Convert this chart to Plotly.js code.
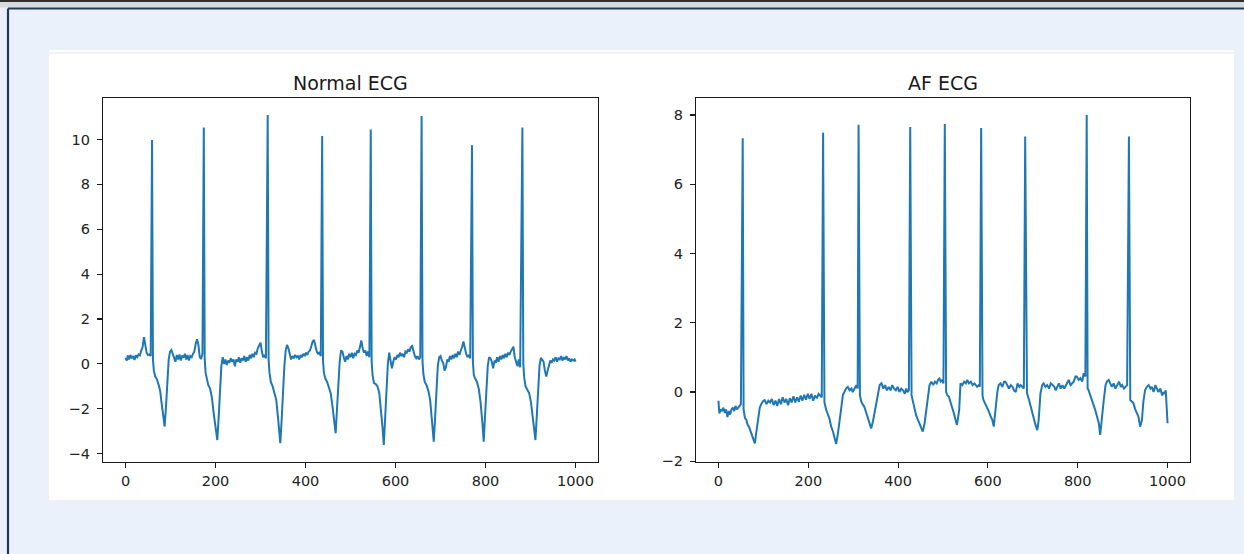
<!DOCTYPE html>
<html>
<head>
<meta charset="utf-8">
<script src="https://cdn.plot.ly/plotly-3.0.1.min.js"></script>
<style>
  html, body { margin: 0; padding: 0; background: #eaf1fb; }
  #chart { width: 1244px; height: 554px; }
</style>
</head>
<body>
<div id="chart"></div>
<script>
// ---- Data ----
const panelTitles = ["Normal ECG", "AF ECG"];
const xTicks = [0, 200, 400, 600, 800, 1000];
const normalYTicks = [-4, -2, 0, 2, 4, 6, 8, 10];
const afYTicks = [-2, 0, 2, 4, 6, 8];

const normalSample = [
  0,3,5,8,11,14,17,20,23,26,29,32,35,38,41,44,47,50,53,56,
  59,61,63,66,70,74,77,80,84,87,90,93,96,99,102,105,108,111,114,117,
  120,123,126,129,132,135,138,141,144,147,150,153,156,159,162,165,168,171,
  174,176,178,181,184,188,192,196,200,204,207,210,213,
  216,219,222,225,228,231,234,237,240,243,246,249,252,255,258,261,264,267,270,273,276,279,282,285,288,291,294,297,300,303,306,309,312,
  316,318,320,323,327,331,335,339,344,347,350,353,356,359,362,
  365,368,371,374,377,380,383,386,389,392,395,398,401,404,407,410,413,416,419,422,425,428,431,434,
  437,439,441,444,448,452,456,460,464,467,470,473,476,479,482,485,488,491,494,497,500,503,506,509,512,515,518,521,524,527,530,533,536,539,542,
  545,547,549,552,556,560,564,568,571,574,577,580,583,586,589,592,595,598,601,604,607,610,613,616,619,622,625,628,631,634,637,640,643,646,649,652,655,
  658,660,662,665,669,673,677,681,685,688,691,694,697,700,703,706,709,712,715,718,721,724,727,730,733,736,739,742,745,748,751,754,757,760,763,766,
  770,772,774,777,781,785,789,793,796,799,802,805,808,811,814,817,820,823,826,829,832,835,838,841,844,847,850,853,856,859,862,865,868,871,874,877,
  882,884,886,889,893,897,901,905,908,911,914,917,920,923,926,929,932,935,938,941,944,947,950,953,956,959,962,965,968,971,974,977,980,983,986,989,992,995,998,1000
];
const normalValue = [
  0.27,0.15,0.38,0.2,0.4,0.25,0.35,0.18,0.38,0.3,0.42,0.38,0.6,0.75,1.19,0.85,0.5,0.4,0.42,0.35,
  9.98,0.2,-0.3,-0.55,-0.7,-0.95,-1.2,-1.7,-2.4,-2.79,-1.9,-0.7,0.2,0.55,0.62,0.45,0.3,0.1,0.4,0.2,
  0.42,0.15,0.38,0.28,0.45,0.2,0.4,0.15,0.35,0.3,0.45,0.55,0.9,1.1,0.85,0.3,0.22,0.45,
  10.54,0.2,-0.4,-0.75,-0.95,-1.1,-1.5,-2.2,-2.9,-3.39,-2.4,-1.1,-0.1,
  0.3,0.0,0.2,-0.05,0.15,0.05,0.25,0.1,0.2,-0.1,0.2,0.1,0.3,0.05,0.25,0.15,0.35,0.1,0.3,0.15,0.4,0.25,0.45,0.3,0.5,0.45,0.7,0.85,0.95,0.55,0.3,0.4,0.25,
  11.09,0.2,-0.4,-0.8,-1.0,-1.25,-1.6,-2.4,-3.53,-2.5,-1.2,-0.1,0.6,0.85,0.7,
  0.45,0.2,0.35,0.25,0.4,0.3,0.35,0.2,0.4,0.3,0.45,0.35,0.5,0.4,0.55,0.6,0.8,1.0,1.07,0.8,0.55,0.45,0.5,0.35,
  10.16,0.1,-0.4,-0.65,-0.8,-1.05,-1.3,-1.9,-2.6,-3.09,-2.0,-0.8,0.1,0.6,0.55,0.3,0.1,0.35,0.2,0.45,0.3,0.5,0.25,0.45,0.4,0.6,0.5,0.75,1.05,0.7,0.5,0.6,0.35,0.55,0.3,
  10.45,0.1,-0.5,-0.85,-0.9,-1.0,-1.3,-2.0,-2.8,-3.61,-2.5,-1.1,0.0,0.5,0.2,-0.2,0.1,0.3,0.2,0.4,0.3,0.5,0.35,0.45,0.3,0.55,0.5,0.65,0.55,0.75,0.8,0.55,0.35,0.25,0.35,0.2,0.3,
  11.05,0.1,-0.45,-0.8,-0.95,-1.2,-1.6,-2.5,-3.46,-2.4,-1.1,-0.1,0.3,0.35,0.15,0.05,-0.3,-0.15,0.2,0.1,0.35,0.2,0.4,0.25,0.45,0.3,0.55,0.4,0.6,0.75,1.0,0.7,0.45,0.3,0.4,0.25,
  9.75,0.1,-0.5,-0.65,-0.8,-1.1,-1.7,-2.6,-3.46,-2.3,-1.0,-0.1,0.3,0.25,0.1,-0.2,0.15,0.05,0.3,0.1,0.35,0.2,0.4,0.25,0.45,0.3,0.5,0.4,0.55,0.65,0.77,0.3,0.1,-0.1,0.2,-0.15,
  10.53,0.0,-0.6,-1.0,-1.15,-1.3,-1.7,-2.4,-3.0,-3.39,-2.3,-1.0,-0.1,0.27,0.2,0.1,-0.3,-0.56,-0.3,0.0,0.15,0.05,0.2,0.15,0.3,0.1,0.25,0.2,0.35,0.15,0.3,0.2,0.35,0.15,0.25,0.1,0.2,0.15,0.2,0.1
];

const afSample = [
  0,2,5,8,11,14,17,20,23,26,29,32,35,38,41,44,47,50,
  54,56,59,62,65,68,72,76,81,85,88,92,96,100,103,107,111,115,119,123,127,131,135,139,143,147,151,155,159,163,167,171,175,179,183,187,191,195,199,203,207,211,215,219,223,227,230,
  233,236,240,244,247,251,255,259,262,266,270,274,277,281,284,288,292,296,299,303,307,310,
  312,315,318,321,325,329,333,337,340,344,347,351,355,359,363,367,371,375,379,383,387,391,395,399,403,407,411,415,418,421,424,
  427,430,433,437,440,444,447,451,455,459,462,466,470,474,478,482,486,489,492,495,498,501,
  504,507,510,513,517,521,525,528,531,534,536,539,543,547,551,554,558,562,566,570,573,576,580,582,
  585,588,590,595,599,602,606,610,613,617,621,624,628,632,636,639,643,647,651,655,658,662,666,670,673,676,680,
  683,687,691,695,699,702,706,710,713,717,721,724,728,732,736,740,744,748,751,754,758,762,766,770,774,777,780,784,788,791,795,798,802,806,810,813,817,
  820,822,824,828,832,836,839,843,847,850,853,856,858,862,865,869,873,876,880,884,888,892,896,899,903,906,910,
  914,917,921,924,928,932,935,939,943,946,950,954,958,962,965,969,973,976,980,984,988,991,994,996,998,1000
];
const afValue = [
  -0.25,-0.62,-0.5,-0.55,-0.45,-0.6,-0.5,-0.72,-0.55,-0.65,-0.5,-0.45,-0.55,-0.4,-0.5,-0.45,-0.4,-0.35,
  7.33,-0.5,-0.75,-0.8,-0.95,-1.0,-1.15,-1.3,-1.48,-1.1,-0.76,-0.45,-0.33,-0.25,-0.23,-0.35,-0.25,-0.3,-0.2,-0.38,-0.25,-0.4,-0.2,-0.35,-0.15,-0.3,-0.2,-0.38,-0.18,-0.3,-0.12,-0.3,-0.15,-0.28,-0.1,-0.25,-0.08,-0.22,-0.05,-0.2,-0.05,-0.25,-0.1,-0.18,-0.05,-0.1,-0.15,
  7.49,-0.3,-0.52,-0.65,-0.76,-1.0,-1.14,-1.35,-1.5,-1.2,-0.86,-0.4,-0.09,0.05,0.1,0.15,0.05,0.1,0.0,0.1,0.2,0.1,
  7.72,-0.1,-0.28,-0.35,-0.43,-0.6,-0.76,-0.95,-1.05,-0.85,-0.62,-0.3,0.0,0.2,0.25,0.1,0.2,0.05,0.15,0.05,0.2,0.1,0.05,0.15,0.0,0.1,0.05,-0.05,0.1,0.0,0.05,
  7.65,-0.1,-0.28,-0.5,-0.66,-0.8,-0.9,-1.0,-1.14,-0.9,-0.57,-0.2,0.2,0.3,0.2,0.3,0.25,0.35,0.39,0.3,0.35,0.25,
  7.74,0.0,-0.1,-0.13,-0.3,-0.42,-0.65,-0.81,-0.95,-0.7,-0.52,0.25,0.2,0.3,0.25,0.35,0.25,0.3,0.2,0.25,0.2,0.15,0.2,0.15,
  7.62,-0.1,-0.23,-0.37,-0.45,-0.56,-0.7,-0.81,-1.0,-0.42,0.0,0.2,0.25,0.15,0.3,0.3,0.2,0.1,0.2,0.15,0.05,0.0,0.25,0.15,0.2,0.15,0.1,
  7.38,-0.03,-0.2,-0.42,-0.6,-0.76,-0.95,-1.1,-0.81,-0.04,0.2,0.25,0.15,0.2,0.1,0.25,0.2,0.15,0.05,0.15,0.25,0.1,0.2,0.1,0.2,0.3,0.35,0.2,0.25,0.3,0.45,0.45,0.35,0.4,0.3,0.54,0.45,
  8.0,0.1,0.06,-0.1,-0.23,-0.4,-0.52,-0.7,-0.9,-1.24,-0.81,-0.45,-0.23,0.2,0.3,0.35,0.2,0.15,0.25,0.1,0.2,0.3,0.15,0.2,0.1,0.15,0.2,
  7.38,-0.23,-0.28,-0.32,-0.5,-0.62,-0.7,-1.0,-0.81,-0.3,0.06,0.15,0.2,0.1,0.15,0.0,0.2,0.1,0.0,0.1,-0.1,0.0,-0.05,0.05,-0.4,-0.9
];

// ---- Figure ----
const W = 1244, H = 554;
const px = v => v / W;
const py = v => (H - v) / H;

const lineStyle = { color: '#1f77b4', width: 2 };

const traces = [
  { x: normalSample, y: normalValue, type: 'scatter', mode: 'lines', line: lineStyle, xaxis: 'x', yaxis: 'y', hoverinfo: 'x+y' },
  { x: afSample, y: afValue, type: 'scatter', mode: 'lines', line: lineStyle, xaxis: 'x2', yaxis: 'y2', hoverinfo: 'x+y' }
];

const tickFont = { family: 'DejaVu Sans, sans-serif', size: 14.5, color: '#222222' };
const baseAxis = {
  showgrid: false, zeroline: false, showline: true, mirror: true,
  linecolor: '#1a1a1a', linewidth: 1.2,
  ticks: 'outside', ticklen: 5, tickwidth: 1.1, tickcolor: '#1a1a1a',
  tickfont: tickFont, fixedrange: true
};
const yDomain = [py(462), py(98)];

const layout = {
  width: W, height: H,
  margin: { l: 0, r: 0, t: 0, b: 0 },
  paper_bgcolor: '#eaf1fb',
  plot_bgcolor: '#ffffff',
  showlegend: false,
  xaxis: Object.assign({}, baseAxis, { domain: [px(103), px(598)], range: [-50, 1050], tickvals: xTicks, anchor: 'y' }),
  yaxis: Object.assign({}, baseAxis, { domain: yDomain, range: [-4.37, 11.85], tickvals: normalYTicks, anchor: 'x', ticklabelstandoff: 4 }),
  xaxis2: Object.assign({}, baseAxis, { domain: [px(696), px(1190)], range: [-50, 1050], tickvals: xTicks, anchor: 'y2' }),
  yaxis2: Object.assign({}, baseAxis, { domain: yDomain, range: [-2.02, 8.49], tickvals: afYTicks, anchor: 'x2', ticklabelstandoff: 4 }),
  shapes: [
    // top dark bar and grey band
    { type: 'rect', xref: 'paper', yref: 'paper', x0: 0, x1: 1, y0: py(2), y1: 1, fillcolor: '#2e2e2e', line: { width: 0 }, layer: 'below' },
    { type: 'rect', xref: 'paper', yref: 'paper', x0: 0, x1: 1, y0: py(7.5), y1: py(2), fillcolor: '#d6d9dd', line: { width: 0 }, layer: 'below' },
    // navy frame (top and left edges)
    { type: 'line', xref: 'paper', yref: 'paper', x0: px(8), x1: 1, y0: py(8.5), y1: py(8.5), line: { color: '#1f3a5a', width: 2.2 }, layer: 'below' },
    { type: 'line', xref: 'paper', yref: 'paper', x0: px(8), x1: px(8), y0: 0, y1: py(8.5), line: { color: '#1f3a5a', width: 2.2 }, layer: 'below' },
    // white figure panel
    { type: 'rect', xref: 'paper', yref: 'paper', x0: px(49), x1: px(1234), y0: py(500), y1: py(50), fillcolor: '#ffffff', line: { width: 0 }, layer: 'below' },
    { type: 'line', xref: 'paper', yref: 'paper', x0: px(49), x1: px(1234), y0: py(53), y1: py(53), line: { color: '#e4e6e8', width: 1 }, layer: 'below' }
  ],
  annotations: [
    { text: panelTitles[0], xref: 'paper', yref: 'paper', x: px(350), y: py(83), xanchor: 'center', yanchor: 'middle', showarrow: false,
      font: { family: 'DejaVu Sans, sans-serif', size: 19, color: '#1a1a1a' } },
    { text: panelTitles[1], xref: 'paper', yref: 'paper', x: px(943), y: py(83), xanchor: 'center', yanchor: 'middle', showarrow: false,
      font: { family: 'DejaVu Sans, sans-serif', size: 19, color: '#1a1a1a' } }
  ]
};

Plotly.newPlot('chart', traces, layout, { displayModeBar: false, staticPlot: true });
</script>
</body>
</html>
